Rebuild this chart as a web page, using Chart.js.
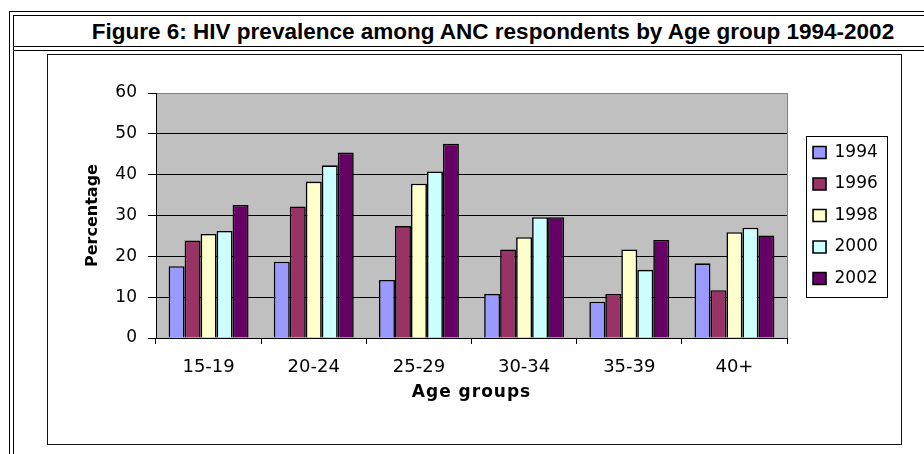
<!DOCTYPE html>
<html>
<head>
<meta charset="utf-8">
<script src="https://cdn.jsdelivr.net/npm/chart.js@4"></script>
<style>
  html, body { margin: 0; padding: 0; background: #fff; width: 924px; height: 454px; overflow: hidden; position: relative; }
  .ln { position: absolute; background: #000; }
  #title { position: absolute; left: 14px; right: -48px; top: 15px; height: 31px; line-height: 33px; text-align: center;
           font-family: "Liberation Sans", Arial, sans-serif; font-weight: bold; font-size: 22.5px; color: #000; white-space: nowrap; }
  #box { position: absolute; left: 47px; top: 54px; width: 855px; height: 391px; box-sizing: border-box; border: 1px solid #111; background: #fff; }
  #wrap { position: absolute; left: 0; top: 0; width: 853px; height: 389px; }
</style>
</head>
<body>
<div class="ln" style="left:9px;top:11px;width:1px;height:460px"></div>
<div class="ln" style="left:13px;top:15px;width:1px;height:460px"></div>
<div class="ln" style="left:9px;top:11px;width:930px;height:1px"></div>
<div class="ln" style="left:13px;top:15px;width:930px;height:1px"></div>
<div class="ln" style="left:13px;top:46px;width:930px;height:1px"></div>
<div class="ln" style="left:13px;top:50px;width:930px;height:1px"></div>
<div id="title">Figure 6: HIV prevalence among ANC respondents by Age group 1994-2002</div>
<div id="box"><div id="wrap"><canvas id="c" width="853" height="389"></canvas></div></div>
<script>
const categories = ['15-19', '20-24', '25-29', '30-34', '35-39', '40+'];
const seriesNames = ['1994', '1996', '1998', '2000', '2002'];
const v1994 = [17.6, 18.7, 14.2, 10.8, 8.9, 18.3];
const v1996 = [23.9, 32.2, 27.4, 21.7, 10.8, 11.7];
const v1998 = [25.5, 38.3, 37.8, 24.7, 21.7, 25.9];
const v2000 = [26.2, 42.3, 40.8, 29.6, 16.7, 27.0];
const v2002 = [32.6, 45.4, 47.6, 29.6, 24.0, 25.1];
const seriesColors = ['#9999FF', '#993366', '#FFFFCC', '#CCFFFF', '#660066'];
const yTicks = [0, 10, 20, 30, 40, 50, 60];

const seriesValues = [v1994, v1996, v1998, v2000, v2002];
Chart.defaults.color = '#000';
Chart.defaults.font.family = '"DejaVu Sans", sans-serif';

const bgPlugin = {
  id: 'bgPlugin',
  afterLayout(chart) {
    const lg = chart.legend;
    const a = chart.chartArea;
    if (lg) {
      lg.left += 11.5;
      lg.right += 11.5;
      lg.top = a.top;
      lg.bottom = a.bottom;
      lg.height = a.bottom - a.top;
    }
  },
  beforeDraw(chart) {
    const {ctx, chartArea: a} = chart;
    ctx.save();
    ctx.fillStyle = '#C0C0C0';
    ctx.fillRect(a.left, a.top, a.right - a.left, a.bottom - a.top);
    ctx.restore();
    const xs = chart.scales.x;
    if (xs && !xs._lsPatched) {
      const orig = xs.drawTitle;
      xs.drawTitle = function () {
        const c = this.ctx;
        c.save();
        try { c.letterSpacing = '1px'; } catch (e) {}
        orig.apply(this, arguments);
        c.restore();
      };
      xs._lsPatched = true;
    }
  },
  beforeDatasetsDraw(chart) {
    const {ctx, chartArea: a} = chart;
    ctx.save();
    ctx.strokeStyle = '#808080';
    ctx.lineWidth = 1;
    ctx.beginPath();
    ctx.moveTo(Math.round(a.right) + 0.5, a.top);
    ctx.lineTo(Math.round(a.right) + 0.5, a.bottom);
    ctx.stroke();
    ctx.restore();
  },
  afterDraw(chart) {
    const lg = chart.legend;
    if (!lg || !lg.legendHitBoxes || !lg.legendHitBoxes.length) return;
    const hb = lg.legendHitBoxes;
    const first = hb[0], last = hb[hb.length - 1];
    let right = 0;
    hb.forEach(h => { right = Math.max(right, h.left + h.width); });
    const left = first.left - 7;
    const top = first.top + first.height / 2 - 17;
    const bottom = last.top + last.height / 2 + 18;
    const {ctx} = chart;
    ctx.save();
    ctx.strokeStyle = '#000';
    ctx.lineWidth = 1;
    ctx.strokeRect(Math.round(left) + 0.5, Math.round(top) + 0.5, Math.round(right + 9 - left), Math.round(bottom - top));
    ctx.restore();
  }
};

new Chart(document.getElementById('c'), {
  type: 'bar',
  data: {
    labels: categories,
    datasets: seriesNames.map((name, i) => ({
      label: name,
      data: seriesValues[i],
      backgroundColor: seriesColors[i],
      borderColor: '#000',
      borderWidth: 1.6,
      categoryPercentage: 0.76,
      barPercentage: 1.0
    }))
  },
  options: {
    responsive: false,
    animation: false,
    events: [],
    layout: { padding: { top: 38, left: 0, bottom: 0, right: 24.7 } },
    plugins: {
      tooltip: { enabled: false },
      title: { display: false },
      legend: {
        position: 'right',
        labels: {
          boxWidth: 13,
          boxHeight: 12,
          padding: 14.5,
          font: { size: 17 },
          color: '#000'
        }
      }
    },
    scales: {
      x: {
        grid: { display: true, drawOnChartArea: false, drawTicks: true, tickLength: 6, color: '#000', tickColor: '#000' },
        border: { display: true, color: '#000', width: 1 },
        ticks: { font: { size: 18 }, padding: 13, color: '#000', maxRotation: 0 },
        title: { display: true, text: 'Age groups', font: { size: 17, weight: 'bold' }, color: '#000', padding: { top: 0, bottom: 41 } },
        afterFit(s) { s.height = 106; }
      },
      y: {
        min: 0, max: 60,
        afterBuildTicks(s) { s.ticks = yTicks.map(v => ({ value: v })); },
        grid: {
          color: (c) => (c.tick && c.tick.value === 60 ? '#808080' : '#000'),
          tickColor: '#000', tickLength: 8, lineWidth: 1
        },
        border: { display: true, color: '#000', width: 1 },
        ticks: { font: { size: 17 }, padding: 11, color: '#000' },
        title: { display: true, text: 'Percentage', font: { size: 16, weight: 'bold' }, color: '#000', padding: { top: 35, bottom: 0 } },
        afterFit(s) { s.width = 108; }
      }
    }
  },
  plugins: [bgPlugin]
});
</script>
</body>
</html>
